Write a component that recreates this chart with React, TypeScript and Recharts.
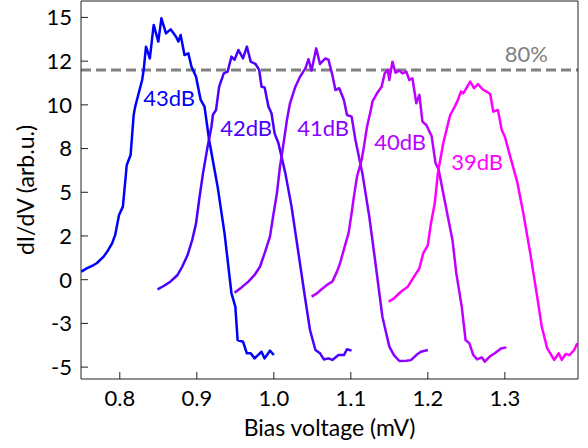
import { Line, LineChart, ReferenceDot, ReferenceLine, XAxis, YAxis } from "recharts";

const xTicks = [0.8, 0.9, 1.0, 1.1, 1.2, 1.3];
const xTickLabels = ["0.8", "0.9", "1.0", "1.1", "1.2", "1.3"];
const yTicks = [-5, -2.5, 0, 2.5, 5, 7.5, 10, 12.5, 15];
const yTickLabels = ["-5", "-3", "0", "2", "5", "8", "10", "12", "15"];

// [bias (mV), dI/dV]
const curve43: [number, number][] = [
  [0.75, 0.46], [0.757, 0.65], [0.766, 0.84], [0.77, 0.94], [0.779, 1.32], [0.785, 1.7],
  [0.79, 2.08], [0.794, 2.56], [0.799, 3.7], [0.804, 4.18], [0.809, 6.56], [0.814, 7.13],
  [0.818, 9.42], [0.82, 9.9], [0.829, 11.42], [0.831, 12.0], [0.834, 13.33], [0.839, 12.66],
  [0.844, 14.57], [0.85, 13.62], [0.854, 14.95], [0.86, 14.09], [0.866, 14.32], [0.873, 13.9],
  [0.876, 13.62], [0.879, 14.0], [0.884, 12.85], [0.889, 12.95], [0.893, 12.19], [0.899, 11.61],
  [0.905, 10.28], [0.91, 9.9], [0.916, 7.99], [0.927, 5.32], [0.936, 2.65], [0.945, -0.78],
  [0.95, -1.54], [0.953, -3.45], [0.96, -3.55], [0.965, -4.21], [0.97, -4.21], [0.975, -4.5],
  [0.984, -4.12], [0.988, -4.5], [0.995, -4.06], [1.0, -4.31],
];
const curve42: [number, number][] = [
  [0.849, -0.55], [0.857, -0.36], [0.866, -0.1], [0.875, 0.27], [0.881, 0.74], [0.888, 1.41],
  [0.894, 2.27], [0.899, 3.22], [0.903, 4.56], [0.908, 6.08], [0.914, 7.61], [0.919, 8.75],
  [0.921, 9.45], [0.925, 9.71], [0.929, 11.04], [0.935, 11.8], [0.94, 11.9], [0.945, 12.76],
  [0.949, 12.57], [0.954, 13.14], [0.96, 12.66], [0.965, 13.33], [0.97, 12.47], [0.976, 12.35],
  [0.981, 12.0], [0.984, 11.04], [0.988, 11.0], [0.993, 9.9], [0.997, 9.52], [1.001, 8.37],
  [1.006, 7.8], [1.015, 6.08], [1.023, 4.18], [1.032, 1.51], [1.041, -1.16], [1.047, -2.88],
  [1.054, -4.02], [1.06, -4.21], [1.065, -4.56], [1.071, -4.5], [1.076, -4.59], [1.084, -4.31],
  [1.091, -4.31], [1.095, -3.98], [1.101, -4.06],
];
const curve41: [number, number][] = [
  [0.949, -0.74], [0.958, -0.44], [0.967, -0.11], [0.975, 0.27], [0.982, 0.74], [0.988, 1.51],
  [0.995, 2.46], [0.999, 3.6], [1.004, 4.94], [1.008, 6.47], [1.012, 7.61], [1.017, 9.13],
  [1.021, 10.09], [1.028, 11.04], [1.034, 11.61], [1.041, 12.09], [1.045, 12.61], [1.049, 11.96],
  [1.055, 13.23], [1.06, 12.34], [1.067, 12.66], [1.071, 12.57], [1.076, 11.71], [1.08, 10.85],
  [1.085, 10.95], [1.091, 10.28], [1.095, 9.42], [1.101, 9.33], [1.106, 7.99], [1.115, 6.08],
  [1.124, 3.6], [1.132, 0.94], [1.141, -2.12], [1.15, -3.83], [1.156, -4.31], [1.163, -4.65],
  [1.172, -4.63], [1.178, -4.6], [1.185, -4.31], [1.191, -4.12], [1.2, -4.02],
];
const curve40: [number, number][] = [
  [1.049, -0.97], [1.056, -0.78], [1.062, -0.55], [1.069, -0.3], [1.076, -0.11], [1.082, 0.46],
  [1.086, 0.94], [1.092, 1.89], [1.097, 2.65], [1.101, 3.8], [1.104, 4.75], [1.108, 5.89],
  [1.114, 6.85], [1.117, 7.61], [1.121, 8.75], [1.126, 9.71], [1.128, 10.18], [1.134, 10.66],
  [1.14, 11.04], [1.144, 11.8], [1.148, 12.0], [1.15, 11.42], [1.154, 12.47], [1.158, 11.84],
  [1.163, 11.96], [1.167, 11.8], [1.172, 11.9], [1.176, 11.42], [1.18, 11.52], [1.185, 10.09],
  [1.189, 10.57], [1.193, 9.04], [1.198, 8.85], [1.205, 8.2], [1.21, 6.66], [1.214, 6.3],
  [1.22, 4.94], [1.226, 3.6], [1.232, 2.27], [1.237, 0.36], [1.244, -1.54], [1.249, -3.45],
  [1.254, -3.64], [1.259, -4.31], [1.264, -4.56], [1.27, -4.44], [1.274, -4.69], [1.281, -4.37],
  [1.287, -4.21], [1.295, -3.93], [1.302, -3.87],
];
const curve39: [number, number][] = [
  [1.149, -1.26], [1.156, -1.07], [1.165, -0.69], [1.174, -0.4], [1.182, 0.17], [1.189, 0.65],
  [1.194, 1.51], [1.2, 1.98], [1.204, 3.22], [1.209, 4.37], [1.213, 6.08], [1.22, 7.8],
  [1.229, 9.42], [1.235, 9.9], [1.239, 10.28], [1.243, 10.76], [1.246, 10.66], [1.25, 10.95],
  [1.255, 11.33], [1.26, 10.95], [1.265, 11.19], [1.271, 10.89], [1.276, 10.76], [1.281, 10.62],
  [1.285, 9.61], [1.291, 9.71], [1.296, 8.56], [1.3, 8.18], [1.307, 7.04], [1.316, 5.61],
  [1.324, 3.8], [1.333, 1.51], [1.342, -0.97], [1.348, -2.69], [1.355, -3.93], [1.359, -4.21],
  [1.364, -4.59], [1.37, -4.21], [1.374, -4.59], [1.379, -4.25], [1.384, -4.31], [1.39, -4.02],
  [1.394, -3.64],
];

const seriesNames = ["43dB", "42dB", "41dB", "40dB", "39dB"];
const seriesColors = ["#0000ff", "#4b00ff", "#8800ff", "#bb00ff", "#ff00ff"];
const curves = [curve43, curve42, curve41, curve40, curve39];
// where each series name sits, in data units
const nameX = [0.864, 0.964, 1.064, 1.164, 1.264];
const nameY = [10.37, 8.66, 8.66, 7.89, 6.71];

const threshold = 12;
const thresholdLabel = "80%";

const xDomain = [0.7496, 1.395];
const yDomain = [-5.68, 15.94];

const font = "Lato, 'Open Sans', sans-serif";
const axisColor = "#222";

export default function App() {
  return (
    <div style={{ position: "absolute", left: 0, top: 0, background: "#fff" }}>
      <LineChart width={588} height={448} margin={{ top: 0, right: 0, bottom: 0, left: 0 }}>
        <XAxis
          xAxisId="bottom"
          type="number"
          dataKey="x"
          domain={xDomain}
          ticks={xTicks}
          allowDataOverflow
          height={69}
          tickSize={-7}
          tickMargin={18}
          tickFormatter={(v: number) => xTickLabels[xTicks.indexOf(v)] ?? String(v)}
          tick={{ fill: "#000", fontSize: 22, fontFamily: font }}
          stroke={axisColor}
          label={{
            value: "Bias voltage (mV)",
            position: "insideBottom",
            offset: 12,
            fill: "#000",
            fontSize: 23,
            fontFamily: font,
          }}
        />
        <XAxis
          xAxisId="top"
          orientation="top"
          type="number"
          dataKey="x"
          domain={xDomain}
          ticks={xTicks}
          allowDataOverflow
          height={1}
          tickSize={-7}
          tick={false}
          stroke={axisColor}
        />
        <YAxis
          yAxisId="left"
          type="number"
          domain={yDomain}
          ticks={yTicks}
          allowDataOverflow
          width={81}
          tickSize={-7}
          tickMargin={16}
          tickFormatter={(v: number) => yTickLabels[yTicks.indexOf(v)] ?? String(v)}
          tick={{ fill: "#000", fontSize: 22, fontFamily: font }}
          stroke={axisColor}
          label={{
            value: "dI/dV (arb.u.)",
            angle: -90,
            position: "insideLeft",
            offset: 26,
            fill: "#000",
            fontSize: 23,
            fontFamily: font,
            style: { textAnchor: "middle" },
          }}
        />
        <YAxis
          yAxisId="right"
          orientation="right"
          type="number"
          domain={yDomain}
          ticks={yTicks}
          allowDataOverflow
          width={10}
          tickSize={-7}
          tick={false}
          stroke={axisColor}
        />
        <ReferenceLine
          xAxisId="bottom"
          yAxisId="left"
          y={threshold}
          stroke="#808080"
          strokeWidth={3}
          strokeDasharray="10 5"
        />
        <ReferenceDot
          xAxisId="bottom"
          yAxisId="left"
          x={1.328}
          y={12.87}
          r={0}
          fill="none"
          stroke="none"
          label={{ value: thresholdLabel, position: "center", fill: "#808080", fontSize: 22, fontFamily: font }}
        />
        {curves.map((c, i) => (
          <Line
            key={seriesNames[i]}
            xAxisId="bottom"
            yAxisId="left"
            data={c.map(([x, y]) => ({ x, y }))}
            dataKey="y"
            type="linear"
            stroke={seriesColors[i]}
            strokeWidth={2.5}
            strokeLinejoin="round"
            dot={false}
            activeDot={false}
            isAnimationActive={false}
          />
        ))}
        {seriesNames.map((n, i) => (
          <ReferenceDot
            key={"lbl" + n}
            xAxisId="bottom"
            yAxisId="left"
            x={nameX[i]}
            y={nameY[i]}
            r={0}
            fill="none"
            stroke="none"
            label={{ value: n, position: "center", fill: seriesColors[i], fontSize: 22, fontFamily: font }}
          />
        ))}
      </LineChart>
    </div>
  );
}
